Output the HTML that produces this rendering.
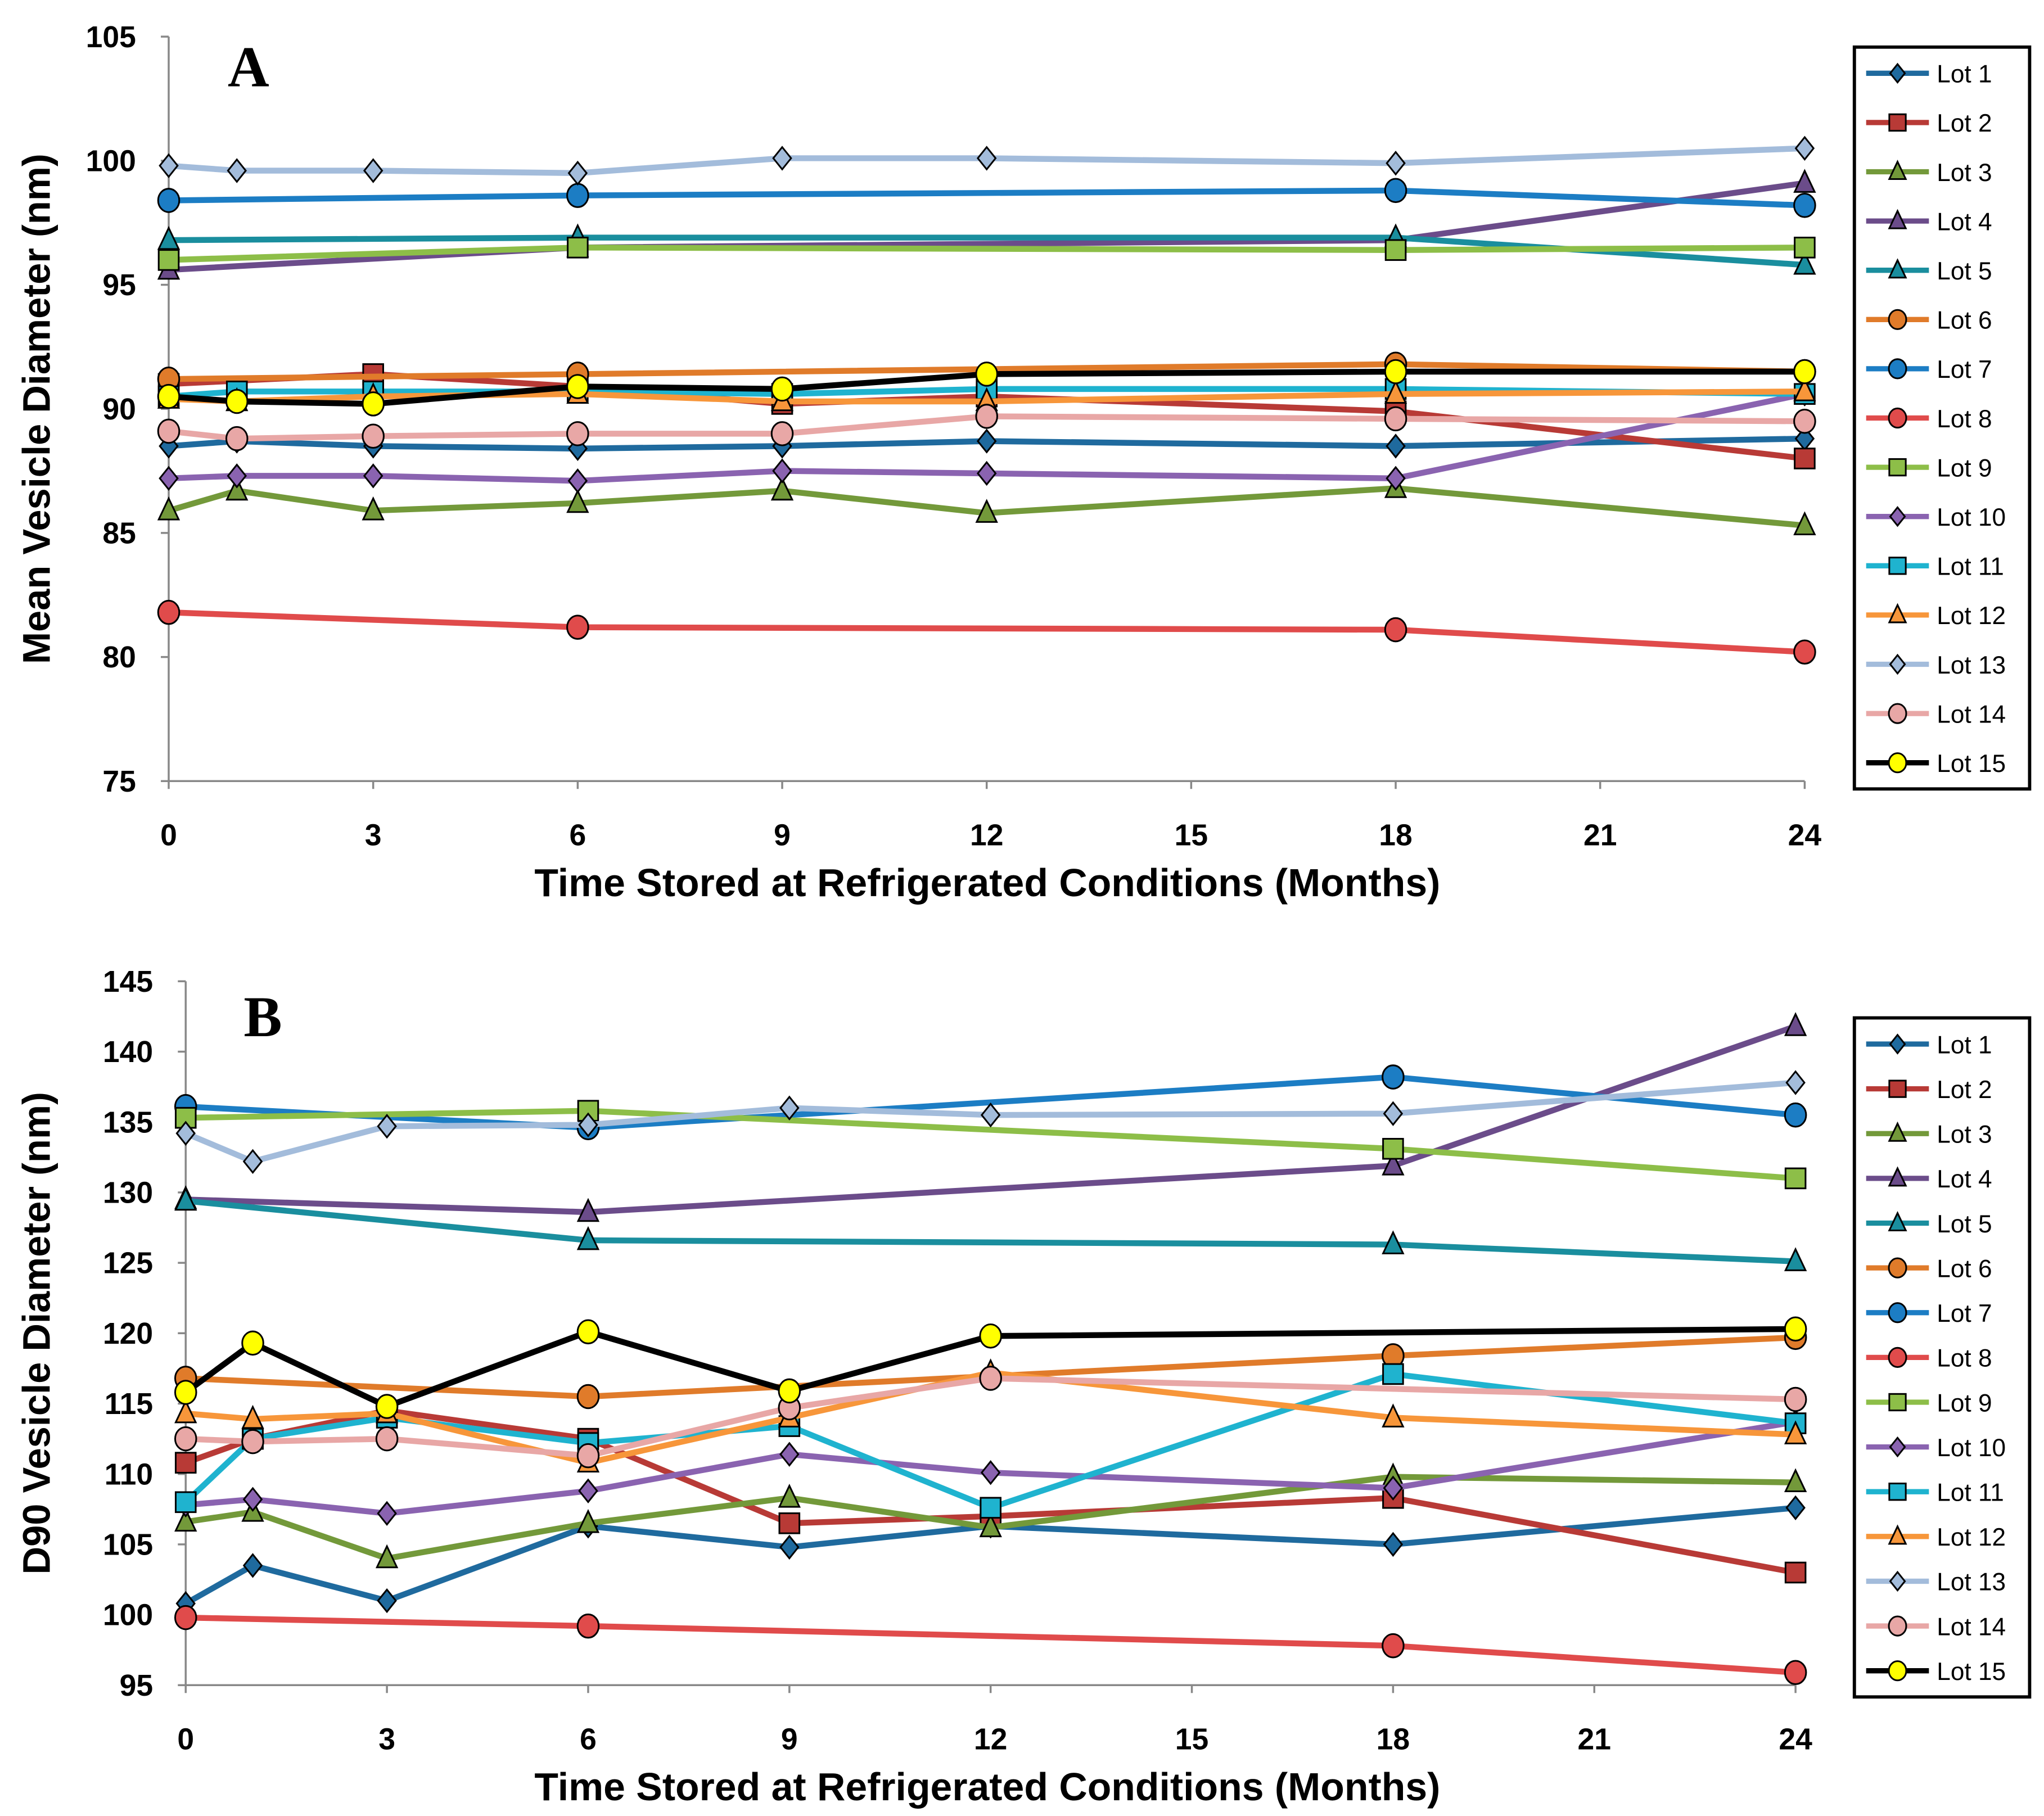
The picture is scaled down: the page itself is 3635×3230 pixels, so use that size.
<!DOCTYPE html>
<html><head><meta charset="utf-8"><style>
html,body{margin:0;padding:0;background:#fff}
svg{display:block}
text{font-family:"Liberation Sans",sans-serif;font-weight:bold;fill:#000}
</style></head><body>
<svg id="chart" xmlns="http://www.w3.org/2000/svg" width="3635" height="3230" viewBox="0 0 1563 1388" preserveAspectRatio="none"></svg>
<script>
const months = [0,1,3,6,9,12,18,24];
const lotNames = ["Lot 1","Lot 2","Lot 3","Lot 4","Lot 5","Lot 6","Lot 7","Lot 8","Lot 9","Lot 10","Lot 11","Lot 12","Lot 13","Lot 14","Lot 15"];
const colors = ["#1F6A9E","#B83A36","#73993A","#6B4C8A","#1A8E9E","#E07B2A","#1C7DC4","#E04B4B","#8DBE48","#8A63B0","#1FB3CF","#F7963A","#A3BCDB","#E8A7A6","#000000"];
const markers = ["diamond","square","triangle","triangle","triangle","circle","circle","circle","square","diamond","square","triangle","diamond","circle","circle"];
const xTicks = [0,3,6,9,12,15,18,21,24];
const yTicksA = [75,80,85,90,95,100,105];
const yTicksB = [95,100,105,110,115,120,125,130,135,140,145];
const meanA = [
 [[0,88.5],[1,88.7],[3,88.5],[6,88.4],[9,88.5],[12,88.7],[18,88.5],[24,88.8]],
 [[0,91.0],[3,91.4],[6,90.9],[9,90.2],[12,90.5],[18,89.9],[24,88.0]],
 [[0,85.9],[1,86.7],[3,85.9],[6,86.2],[9,86.7],[12,85.8],[18,86.8],[24,85.3]],
 [[0,95.6],[6,96.5],[18,96.8],[24,99.1]],
 [[0,96.8],[6,96.9],[18,96.9],[24,95.8]],
 [[0,91.2],[6,91.4],[18,91.8],[24,91.5]],
 [[0,98.4],[6,98.6],[18,98.8],[24,98.2]],
 [[0,81.8],[6,81.2],[18,81.1],[24,80.2]],
 [[0,96.0],[6,96.5],[18,96.4],[24,96.5]],
 [[0,87.2],[1,87.3],[3,87.3],[6,87.1],[9,87.5],[12,87.4],[18,87.2],[24,90.6]],
 [[0,90.5],[1,90.7],[3,90.7],[6,90.7],[9,90.6],[12,90.8],[18,90.8],[24,90.6]],
 [[0,90.4],[1,90.3],[3,90.5],[6,90.6],[9,90.3],[12,90.3],[18,90.6],[24,90.7]],
 [[0,99.8],[1,99.6],[3,99.6],[6,99.5],[9,100.1],[12,100.1],[18,99.9],[24,100.5]],
 [[0,89.1],[1,88.8],[3,88.9],[6,89.0],[9,89.0],[12,89.7],[18,89.6],[24,89.5]],
 [[0,90.5],[1,90.3],[3,90.2],[6,90.9],[9,90.8],[12,91.4],[18,91.5],[24,91.5]]
];
const d90B = [
 [[0,100.8],[1,103.5],[3,101.0],[6,106.3],[9,104.8],[12,106.3],[18,105.0],[24,107.6]],
 [[0,110.8],[1,112.5],[3,114.5],[6,112.5],[9,106.5],[12,107.0],[18,108.3],[24,103.0]],
 [[0,106.6],[1,107.3],[3,104.0],[6,106.5],[9,108.3],[12,106.2],[18,109.8],[24,109.4]],
 [[0,129.5],[6,128.6],[18,131.9],[24,141.8]],
 [[0,129.4],[6,126.6],[18,126.3],[24,125.1]],
 [[0,116.8],[6,115.5],[18,118.4],[24,119.7]],
 [[0,136.1],[6,134.6],[18,138.2],[24,135.5]],
 [[0,99.8],[6,99.2],[18,97.8],[24,95.9]],
 [[0,135.3],[6,135.8],[18,133.1],[24,131.0]],
 [[0,107.8],[1,108.2],[3,107.2],[6,108.8],[9,111.4],[12,110.1],[18,109.0],[24,113.7]],
 [[0,108.0],[1,112.5],[3,114.0],[6,112.2],[9,113.4],[12,107.6],[18,117.1],[24,113.6]],
 [[0,114.3],[1,113.9],[3,114.3],[6,110.8],[9,114.0],[12,117.2],[18,114.0],[24,112.8]],
 [[0,134.2],[1,132.2],[3,134.7],[6,134.8],[9,136.0],[12,135.5],[18,135.6],[24,137.8]],
 [[0,112.5],[1,112.3],[3,112.5],[6,111.3],[9,114.7],[12,116.8],[24,115.3]],
 [[0,115.8],[1,119.3],[3,114.8],[6,120.1],[9,115.9],[12,119.8],[24,120.3]]
];
const NS="http://www.w3.org/2000/svg";
const svg=document.getElementById('chart');
function mk(tag,attrs,parent){const e=document.createElementNS(NS,tag);for(const k in attrs)e.setAttribute(k,attrs[k]);(parent||svg).appendChild(e);return e;}
function marker(g,type,x,y,color,r){
 let e;
 const fill = color==="#000000" ? "#FFFF00" : color;
 if(type==="circle") e=mk('ellipse',{cx:x,cy:y,rx:r*0.95,ry:r*1.05,fill:fill,stroke:"#000","stroke-width":1.3},g);
 else if(type==="square") e=mk('rect',{x:x-r*0.9,y:y-r*0.9,width:r*1.8,height:r*1.8,fill:fill,stroke:"#000","stroke-width":1.3},g);
 else if(type==="triangle") e=mk('polygon',{points:`${x},${y-r*1.1} ${x+r*0.9},${y+r*0.8} ${x-r*0.9},${y+r*0.8}`,fill:fill,stroke:"#000","stroke-width":1.3},g);
 else e=mk('polygon',{points:`${x},${y-r} ${x+r*0.8},${y} ${x},${y+r} ${x-r*0.8},${y}`,fill:fill,stroke:"#000","stroke-width":1.3},g);
 
 
}
function panel(cfg){
 const {x0,x1,yTop,yBot,vMin,vMax,ticks,data,title,letter,lx,ly,legTop,legBot,id}=cfg;
 const g=mk('g',{});
 
 
 const X=m=>x0+(x1-x0)*m/24;
 const Y=v=>yBot-(yBot-yTop)*(v-vMin)/(vMax-vMin);
 const ax=mk('g',{},g);
 
 
 mk('line',{x1:x0,y1:yTop,x2:x0,y2:yBot,stroke:"#888","stroke-width":1.5},ax);
 mk('line',{x1:x0,y1:yBot,x2:x1,y2:yBot,stroke:"#888","stroke-width":1.5},ax);
 ticks.forEach(t=>{
  mk('line',{x1:x0-6,y1:Y(t),x2:x0,y2:Y(t),stroke:"#888","stroke-width":1.5},ax);
  const tx=mk('text',{x:x0-25,y:Y(t)+8,"text-anchor":"end","font-size":23},ax);tx.textContent=t;
  
  
 });
 xTicks.forEach(t=>{
  mk('line',{x1:X(t),y1:yBot,x2:X(t),y2:yBot+6,stroke:"#888","stroke-width":1.5},ax);
  const tx=mk('text',{x:X(t),y:yBot+49,"text-anchor":"middle","font-size":23},ax);tx.textContent=t;
  
  
 });
 const xt=mk('text',{x:755,y:yBot+88,"text-anchor":"middle","font-size":30},g);xt.textContent="Time Stored at Refrigerated Conditions (Months)";
 
 
 const cy=(yTop+yBot)/2;
 const yt=mk('text',{x:0,y:0,"text-anchor":"middle","font-size":29.5,transform:`translate(38,${cy}) rotate(-90)`},g);yt.textContent=title;
 
 
 const lt=mk('text',{x:lx,y:ly,"text-anchor":"middle","font-size":44,style:'font-family:"Liberation Serif",serif'},g);lt.textContent=letter;
 
 
 data.forEach((s,i)=>{
  const sg=mk('g',{},g);
  
  
  mk('polyline',{points:s.map(p=>X(p[0])+','+Y(p[1])).join(' '),fill:"none",stroke:colors[i],"stroke-width":4.5,"stroke-linejoin":"round"},sg);
  s.forEach(p=>marker(sg,markers[i],X(p[0]),Y(p[1]),colors[i],8.5));
 });
 const lg=mk('g',{},g);
 
 
 mk('rect',{x:1418,y:legTop,width:134,height:legBot-legTop,fill:"#fff",stroke:"#000","stroke-width":2.5},lg);
 const step=(legBot-legTop-40)/14;
 lotNames.forEach((n,i)=>{
  const yy=legTop+20+i*step;
  const eg=mk('g',{},lg);
  
  
  mk('line',{x1:1427,y1:yy,x2:1475,y2:yy,stroke:colors[i],"stroke-width":4},eg);
  marker(eg,markers[i],1451,yy,colors[i],7);
  const t=mk('text',{x:1481,y:yy+7,"font-size":19,style:"font-weight:normal"},eg);t.textContent=n;
 });
}
panel({id:'panel-a',x0:129,x1:1380,yTop:28,yBot:597,vMin:75,vMax:105,ticks:yTicksA,data:meanA,title:"Mean Vesicle Diameter (nm)",letter:"A",lx:190,ly:66,legTop:36,legBot:603});
panel({id:'panel-b',x0:142,x1:1373,yTop:750,yBot:1288,vMin:95,vMax:145,ticks:yTicksB,data:d90B,title:"D90 Vesicle Diameter (nm)",letter:"B",lx:201,ly:792,legTop:778,legBot:1297});
</script>
</body></html>
